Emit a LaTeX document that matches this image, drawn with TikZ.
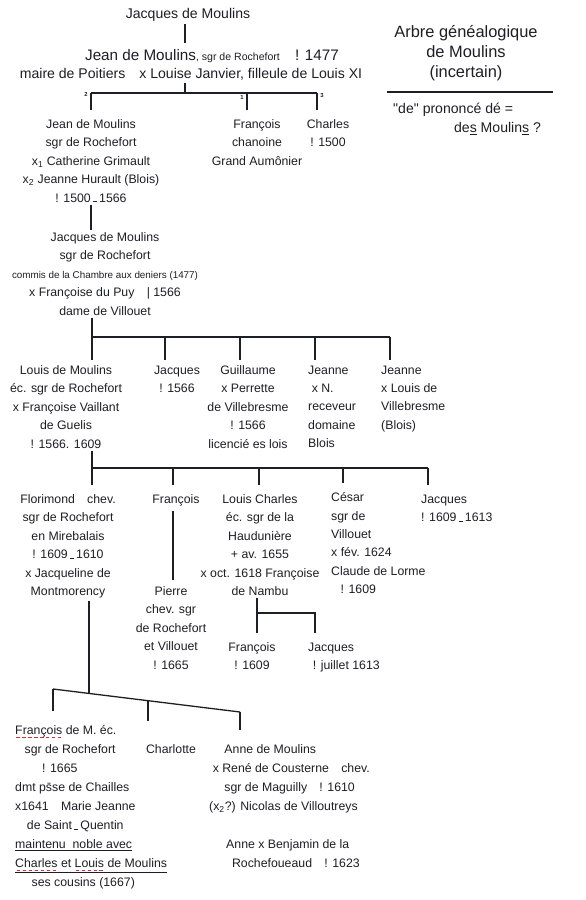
\documentclass[tikz,border=0pt]{standalone}
\usepackage{fontspec}
\setmainfont{Liberation Sans}
\usepackage{tikz}
\definecolor{ink}{RGB}{30,30,38}
\definecolor{redink}{RGB}{205,45,60}
\newsavebox\wordbox
\newcommand\lowdash{\,\rule{0.35em}{0.6pt}\,}
\newcommand\reddash[1]{\sbox\wordbox{#1}\rlap{\textcolor{redink}{\hbox to \wd\wordbox{\xleaders\hbox{\kern1pt\rule[-2.8pt]{3pt}{0.7pt}\kern1pt}\hfill}}}\usebox\wordbox}
\tikzset{
	person/.style={
		align=center,
		anchor=north,
		inner xsep=0pt,
		inner ysep=2pt,
		text=ink,
		font=\fontsize{10.5}{15.7}\selectfont
	},
	link/.style={draw=ink,line width=1.1pt},
	rank/.style={text=ink,inner sep=0pt,font=\fontsize{5}{6}\selectfont\bfseries}
}

\begin{document}
\begin{tikzpicture}[x=0.03cm,y=-0.03cm,
			leftperson/.style={person,align=left,anchor=north west},
			big/.style={font=\fontsize{12}{15.7}\selectfont}]
		\path[fill=white,use as bounding box] (0,0) rectangle (585,900);

		% generations 1 and 2
		\coordinate (b1) at (185,93);
		\coordinate (b1l) at (91,93);
		\coordinate (b1m) at (247,93);
		\coordinate (b1r) at (317,93);
		\node[person,font=\fontsize{12}{16}\selectfont] (jacques0) at (188,6) {Jacques de Moulins};
		\node[person,font=\fontsize{13}{16}\selectfont] (jean1) at (212,47) {Jean de Moulins{\small, sgr de Rochefort}\quad ! 1477};
		\node[person,big] (maire) at (191,66) {maire de Poitiers\quad x Louise Janvier, filleule de Louis XI};
		\draw[link,shorten >=3pt] (jacques0.south -| b1) -- (b1 |- jean1.north);

		\node[rank] (r2) at (86,94) {2};
		\node[rank] (r1) at (242,97) {1};
		\node[rank] (r3) at (322,95) {3};
		\draw[link] (maire.south -| b1) -- (b1);
		\draw[link] (b1l) -- (b1r);

		\node[person] (jean2) at (91,117) {Jean de Moulins\\sgr de Rochefort\\x\textsubscript{1} Catherine Grimault\\x\textsubscript{2} Jeanne Hurault (Blois)\\! 1500\lowdash 1566};
		\node[person] (francois2) at (257,117) {François\\chanoine\\Grand Aumônier};
		\node[person] (charles2) at (328,117) {Charles\\! 1500};
		\draw[link,shorten >=6pt] (b1l) -- (b1l |- jean2.north);
		\draw[link,shorten >=6pt] (b1m) -- (b1m |- francois2.north);
		\draw[link,shorten >=6pt] (b1r) -- (b1r |- charles2.north);

		\node[person] (jacques2) at (105,230) {Jacques de Moulins\\sgr de Rochefort\\{\fontsize{8.4}{15.7}\selectfont commis de la Chambre aux deniers (1477)}\\x Françoise du Puy\quad | 1566\\dame de Villouet};
		\draw[link] (jean2.south -| b1l) -- (b1l |- jacques2.north);

		% children of Jacques
		\coordinate (b2l) at (92,337);
		\coordinate (b2r) at (390,337);
		\draw[link] (jacques2.south -| b2l) -- (b2l);
		\draw[link] (b2l) -- (b2r);
		\node[person] (louis3) at (66,363) {Louis de Moulins\\éc. sgr de Rochefort\\x Françoise Vaillant\\de Guelis\\! 1566. 1609};
		\node[person] (jacques3) at (177,363) {Jacques\\! 1566};
		\node[person] (guillaume3) at (248,363) {Guillaume\\x Perrette\\de Villebresme\\! 1566\\licencié es lois};
		\node[leftperson] (jeanne3a) at (308,363) {Jeanne\\\hspace*{3pt}x N.\\receveur\\domaine\\Blois};
		\node[leftperson] (jeanne3b) at (381,363) {Jeanne\\x Louis de\\Villebresme\\(Blois)};
		\foreach \n/\x in {louis3/92,jacques3/165,guillaume3/240,jeanne3a/315,jeanne3b/390}
			\draw[link,shorten >=2.5pt] (\x,337) -- (\x,337 |- \n.north);

		% children of Louis
		\coordinate (b3l) at (92,468);
		\coordinate (b3r) at (428,468);
		\draw[link] (louis3.south -| b3l) -- (b3l);
		\draw[link] (b3l) -- (b3r);
		\node[person] (florimond) at (68,492) {Florimond\quad chev.\\sgr de Rochefort\\en Mirebalais\\! 1609\lowdash 1610\\x Jacqueline de\\Montmorency};
		\node[person] (francois4) at (176,492) {François};
		\node[person] (louisch) at (260,492) {Louis Charles\\éc. sgr de la\\Haudunière\\+ av. 1655\\x oct. 1618 Françoise\\de Nambu};
		\node[leftperson] (cesar) at (331,490) {César\\sgr de\\Villouet\\x fév. 1624\\Claude de Lorme\\\hspace*{8pt}! 1609};
		\node[leftperson] (jacques4) at (421,492) {Jacques\\! 1609\lowdash 1613};
		\foreach \n/\x in {florimond/92,francois4/173,louisch/259,cesar/343,jacques4/428}
			\draw[link,shorten >=6pt] (\x,468) -- (\x,468 |- \n.north);

		\node[person] (pierre) at (171,584) {Pierre\\chev. sgr\\de Rochefort\\et Villouet\\! 1665};
		\draw[link,shorten <=2pt,shorten >=3.4pt] (173,0 |- francois4.south) -- (173,0 |- pierre.north);

		\coordinate (nb) at (257,613);
		\coordinate (nbr) at (315,613);
		\node[person] (francois5) at (252,640) {François\\! 1609};
		\node[leftperson] (jacques5) at (308,640) {Jacques\\\hspace*{4pt}! juillet 1613};
		\draw[link,shorten >=6pt] (louisch.south -| nb) -- (nb |- francois5.north);
		\draw[link,shorten >=6pt] (nb) -| (nbr |- jacques5.north);

		% children of Florimond
		\coordinate (sl) at (53,689);
		\coordinate (sj) at (89,693.4);
		\coordinate (sm) at (148,700.7);
		\coordinate (sr) at (240,712);
		\draw[link] (sj |- florimond.south) -- (sj);
		\draw[link] (sl) -- (sr);
		\node[leftperson,font=\fontsize{10.5}{16.2}\selectfont] (francois6) at (15,723) {\reddash{François} de M. éc.\\\hspace*{8pt}sgr de Rochefort\\\hspace*{23pt}! 1665\\dmt p\={s}se de Chailles\\x1641\quad Marie Jeanne\\\hspace*{10pt}de Saint\lowdash Quentin\\\underline{maintenu\ \ noble avec}\\\underline{\reddash{Charles} et \reddash{Louis} de Moulins}\\\hspace*{14pt}ses cousins (1667)};
		\node[person] (charlotte) at (171,742) {Charlotte};
		\node[leftperson,font=\fontsize{10.5}{16.2}\selectfont] (anne) at (209,742) {\hspace*{13pt}Anne de Moulins\\\hspace*{3pt}x René de Cousterne\quad chev.\\\hspace*{13pt}sgr de Maguilly\quad ! 1610\\(x\textsubscript{2}?) Nicolas de Villoutreys};
		\node[leftperson,font=\fontsize{10.5}{16.2}\selectfont] (anne2) at (226,837) {Anne x Benjamin de la\\\hspace*{5pt}Rochefoueaud\quad ! 1623};
		\draw[link,shorten >=10pt] (sl) -- (sl |- francois6.north);
		\draw[link,shorten >=18pt] (sm) -- (sm |- charlotte.north);
		\draw[link,shorten >=10pt] (sr) -- (sr |- anne.north);

		% note
		\node[person,font=\fontsize{14}{17}\selectfont] (title) at (466,23) {Arbre généalogique\\de Moulins\\(incertain)};
		\coordinate (nl) at (387,92);
		\coordinate (nr) at (553,92);
		\draw[link] (nl) -- (nr);
		\node[leftperson,font=\fontsize{12}{16}\selectfont] (remark) at (393,101) {\textquotedbl de\textquotedbl\ prononcé dé =\\\hspace*{52pt}de\underline{s} Moulin\underline{s} ?};
	\end{tikzpicture}
\end{document}
